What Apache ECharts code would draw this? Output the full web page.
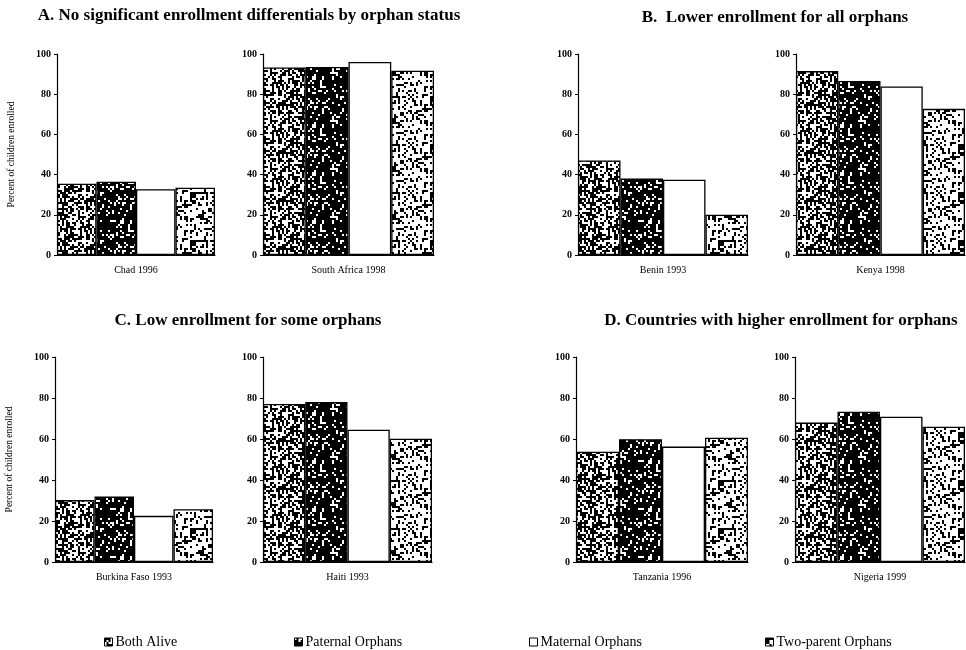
<!DOCTYPE html>
<html>
<head>
<meta charset="utf-8">
<script src="https://cdn.jsdelivr.net/npm/echarts@6/dist/echarts.min.js"></script>
<style>
html,body{margin:0;padding:0;background:#fff;}
#chart{width:966px;height:650px;}
</style>
</head>
<body>
<div id="chart"></div>
<script>
// ---- data ----
const categories = ['Chad 1996', 'South Africa 1998', 'Benin 1993', 'Kenya 1998',
                    'Burkina Faso 1993', 'Haiti 1993', 'Tanzania 1996', 'Nigeria 1999'];
const seriesNames = ['Both Alive', 'Paternal Orphans', 'Maternal Orphans', 'Two-parent Orphans'];
const bothAlive = [35.5, 93.3, 47.0, 91.5, 30.2, 77.1, 53.8, 68.0];
const paternal  = [36.5, 93.5, 38.0, 86.6, 31.9, 78.0, 59.9, 73.3];
const maternal  = [32.7, 96.0, 37.5, 83.8, 22.5, 64.5, 56.3, 70.9];
const twoParent = [33.5, 91.7, 20.0, 72.7, 25.7, 60.1, 60.6, 66.0];
const yTickLabels = ['0', '20', '40', '60', '80', '100'];
const panelTitles = ['A. No significant enrollment differentials by orphan status',
                     'B.  Lower enrollment for all orphans',
                     'C. Low enrollment for some orphans',
                     'D. Countries with higher enrollment for orphans'];
const yAxisName = 'Percent of children enrolled';

// ---- layout (positions only) ----
const grids = [
  {left: 57,  top: 54,  width: 158, height: 201},
  {left: 263, top: 54,  width: 171, height: 201},
  {left: 578, top: 54,  width: 170, height: 201},
  {left: 796, top: 54,  width: 169, height: 201},
  {left: 55,  top: 357, width: 158, height: 205},
  {left: 263, top: 357, width: 169, height: 205},
  {left: 576, top: 357, width: 172, height: 205},
  {left: 795, top: 357, width: 170, height: 205}
];
const titlePos = [[249, 16], [775, 18], [248, 321], [781, 321]];
const legendPos = [99, 289, 524, 760];

// ---- stipple textures (deterministic hash) ----
function hash(x, y, s) {
  let h = (x * 374761393 + y * 668265263 + s * 982451653) | 0;
  h = (h ^ (h >>> 13)) * 1274126177 | 0;
  h = h ^ (h >>> 16);
  return ((h >>> 0) % 1000) / 1000;
}
function stipple(density, seed) {
  const size = 48, cell = 2;
  const c = document.createElement('canvas');
  c.width = size; c.height = size;
  const ctx = c.getContext('2d');
  ctx.fillStyle = '#ffffff';
  ctx.fillRect(0, 0, size, size);
  ctx.fillStyle = '#000000';
  for (let i = 0; i < size / cell; i++) {
    for (let j = 0; j < size / cell; j++) {
      if (hash(i, j, seed) < density) ctx.fillRect(i * cell, j * cell, cell, cell);
    }
  }
  return c;
}
const fills = [
  {image: stipple(0.55, 1), repeat: 'repeat'},
  {image: stipple(0.86, 2), repeat: 'repeat'},
  '#ffffff',
  {image: stipple(0.30, 3), repeat: 'repeat'}
];
const values = [bothAlive, paternal, maternal, twoParent];

const serif = '"Liberation Serif", "DejaVu Serif", serif';

const option = {
  backgroundColor: '#ffffff',
  animation: false,
  grid: grids.map(g => Object.assign({containLabel: false}, g)),
  xAxis: categories.map((c, i) => ({
    type: 'category', gridIndex: i, data: [c],
    axisLine: {lineStyle: {color: '#000', width: 1.2}},
    axisTick: {show: false},
    axisLabel: {color: '#000', fontFamily: serif, fontSize: 10, margin: 10}
  })),
  yAxis: categories.map((c, i) => ({
    type: 'value', gridIndex: i, min: 0, max: 100, interval: 20,
    name: (i === 0 || i === 4) ? yAxisName : '',
    nameLocation: 'middle', nameGap: 41,
    nameTextStyle: {color: '#000', fontFamily: serif, fontSize: 9.5},
    splitLine: {show: false},
    axisLine: {show: true, lineStyle: {color: '#000', width: 1.2}},
    axisTick: {show: true, length: 3, lineStyle: {color: '#000'}},
    axisLabel: {color: '#000', fontFamily: serif, fontSize: 10, fontWeight: 'bold', margin: 6,
                formatter: v => yTickLabels[Math.round(v / 20)]}
  })),
  legend: seriesNames.map((n, k) => ({
    data: [n], left: legendPos[k], top: 630,
    icon: 'rect', itemWidth: 8, itemHeight: 8, itemGap: 4,
    itemStyle: {borderColor: '#000', borderWidth: 1},
    textStyle: {color: '#000', fontFamily: serif, fontSize: 14, padding: [0, 0, 0, -2]},
    selectedMode: false
  })),
  graphic: panelTitles.map((t, k) => ({
    type: 'text', x: titlePos[k][0], y: titlePos[k][1],
    style: {text: t, fill: '#000', font: 'bold 17px ' + serif,
            textAlign: 'center', textVerticalAlign: 'middle'}
  })),
  series: []
};

categories.forEach((c, i) => {
  seriesNames.forEach((n, k) => {
    option.series.push({
      type: 'bar', name: n, xAxisIndex: i, yAxisIndex: i,
      data: [values[k][i]],
      barGap: '0%', barCategoryGap: '0%',
      itemStyle: {color: fills[k], borderColor: '#000', borderWidth: 1.3},
      emphasis: {disabled: true}
    });
  });
});

const chart = echarts.init(document.getElementById('chart'), null, {renderer: 'canvas'});
chart.setOption(option);
</script>
</body>
</html>
